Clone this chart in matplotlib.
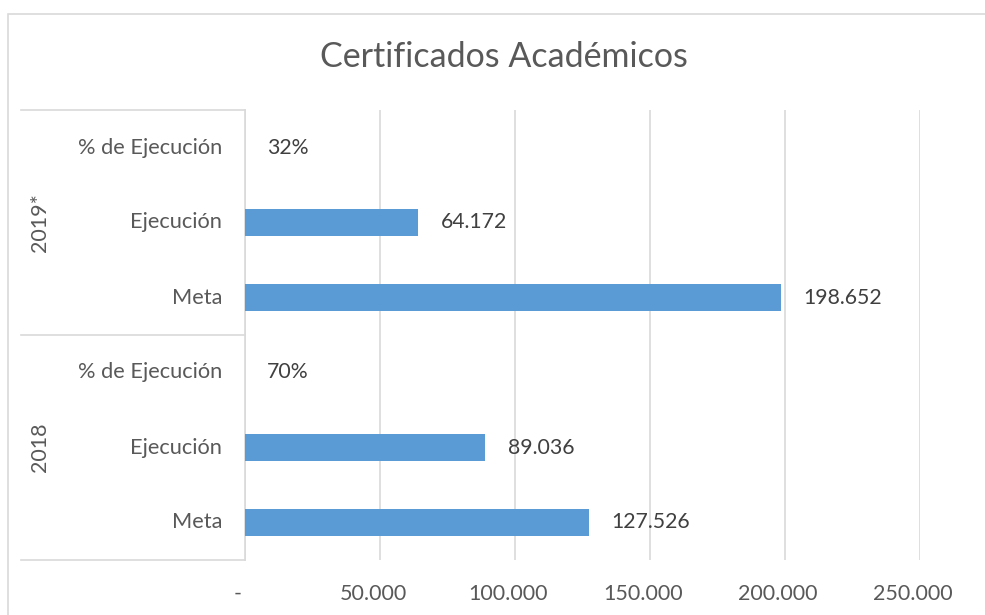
import matplotlib
matplotlib.use("Agg")
import matplotlib.pyplot as plt
from matplotlib.lines import Line2D
from matplotlib.patches import Rectangle
from matplotlib.transforms import blended_transform_factory, offset_copy

plt.rcParams['font.family'] = ['Lato', 'DejaVu Sans']

title = "Certificados Académicos"
years = ["2019*", "2018"]
categories = ["% de Ejecución", "Ejecución", "Meta"]
meta = [198652, 127526]
ejecucion = [64172, 89036]
pct = [0.32, 0.70]
xticks = [0, 50000, 100000, 150000, 200000, 250000]
xtick_labels = ["-", "50.000", "100.000", "150.000", "200.000", "250.000"]

W, H = 985, 615
fig = plt.figure(figsize=(W / 100, H / 100), dpi=100)
L, R, T, B = 245, 920, 110, 560
ax = fig.add_axes([L / W, 1 - B / H, (R - L) / W, (B - T) / H])

bar_color = "#5B9BD5"
text_color = "#404040"
axis_text = "#595959"
line_color = "#D9D9D9"

def fmt(v):
    return f"{v:,.0f}".replace(",", ".")

rows_labels = []
rows_values = []
rows_text = []
for i, y in enumerate(years):
    rows_labels += categories
    rows_values += [pct[i], ejecucion[i], meta[i]]
    rows_text += [f"{pct[i]*100:.0f}%", fmt(ejecucion[i]), fmt(meta[i])]

ypos = list(range(len(rows_values)))
ax.barh(ypos, rows_values, height=0.35, color=bar_color, zorder=3)
ax.set_ylim(len(ypos) - 0.5, -0.5)
ax.set_xlim(0, 250000)

for yp, v, t in zip(ypos, rows_values, rows_text):
    ax.annotate(t, (v, yp), xytext=(16, 0), textcoords="offset points",
                va="center", ha="left", fontsize=15.3, color=text_color, zorder=4)

ax.set_xticks(xticks)
ax.set_xticklabels(xtick_labels, fontsize=15.5, color=axis_text)
ax.tick_params(axis="x", length=0, pad=17)
for lab in ax.get_xticklabels():
    lab.set_transform(offset_copy(lab.get_transform(), fig=fig, x=-7, y=0, units="dots"))
ax.set_yticks([])
ax.grid(axis="x", color=line_color, linewidth=1.2, zorder=0)
for s in ["top", "right", "bottom"]:
    ax.spines[s].set_visible(False)
ax.spines["left"].set_color(line_color)
ax.spines["left"].set_linewidth(1.2)

# category labels
trans = blended_transform_factory(fig.transFigure, ax.transData)
for yp, lab in zip(ypos, rows_labels):
    ax.text(222 / W, yp, lab, transform=trans, ha="right", va="center",
            fontsize=15.7, color=axis_text)
for gi, yr in enumerate(years):
    center = gi * 3 + 1
    ax.text(40 / W, center, yr, transform=trans, ha="center", va="center",
            rotation=90, fontsize=15.5, color=axis_text)

def fx(px):
    return px / W
def fy(py):
    return 1 - py / H

for py in [110, 335, 560]:
    fig.add_artist(Line2D([fx(21), fx(245)], [fy(py), fy(py)],
                          color=line_color, linewidth=1.2))

# chart border
fig.add_artist(Rectangle((fx(7.5), fy(640)), fx(1000) - fx(7.5), fy(13.5) - fy(640),
                         transform=fig.transFigure, fill=False,
                         edgecolor=line_color, linewidth=1.2))

fig.text(fx(504), fy(57), title, ha="center", va="center",
         fontsize=24.5, color=axis_text)

fig.savefig("out.png", dpi=100)
